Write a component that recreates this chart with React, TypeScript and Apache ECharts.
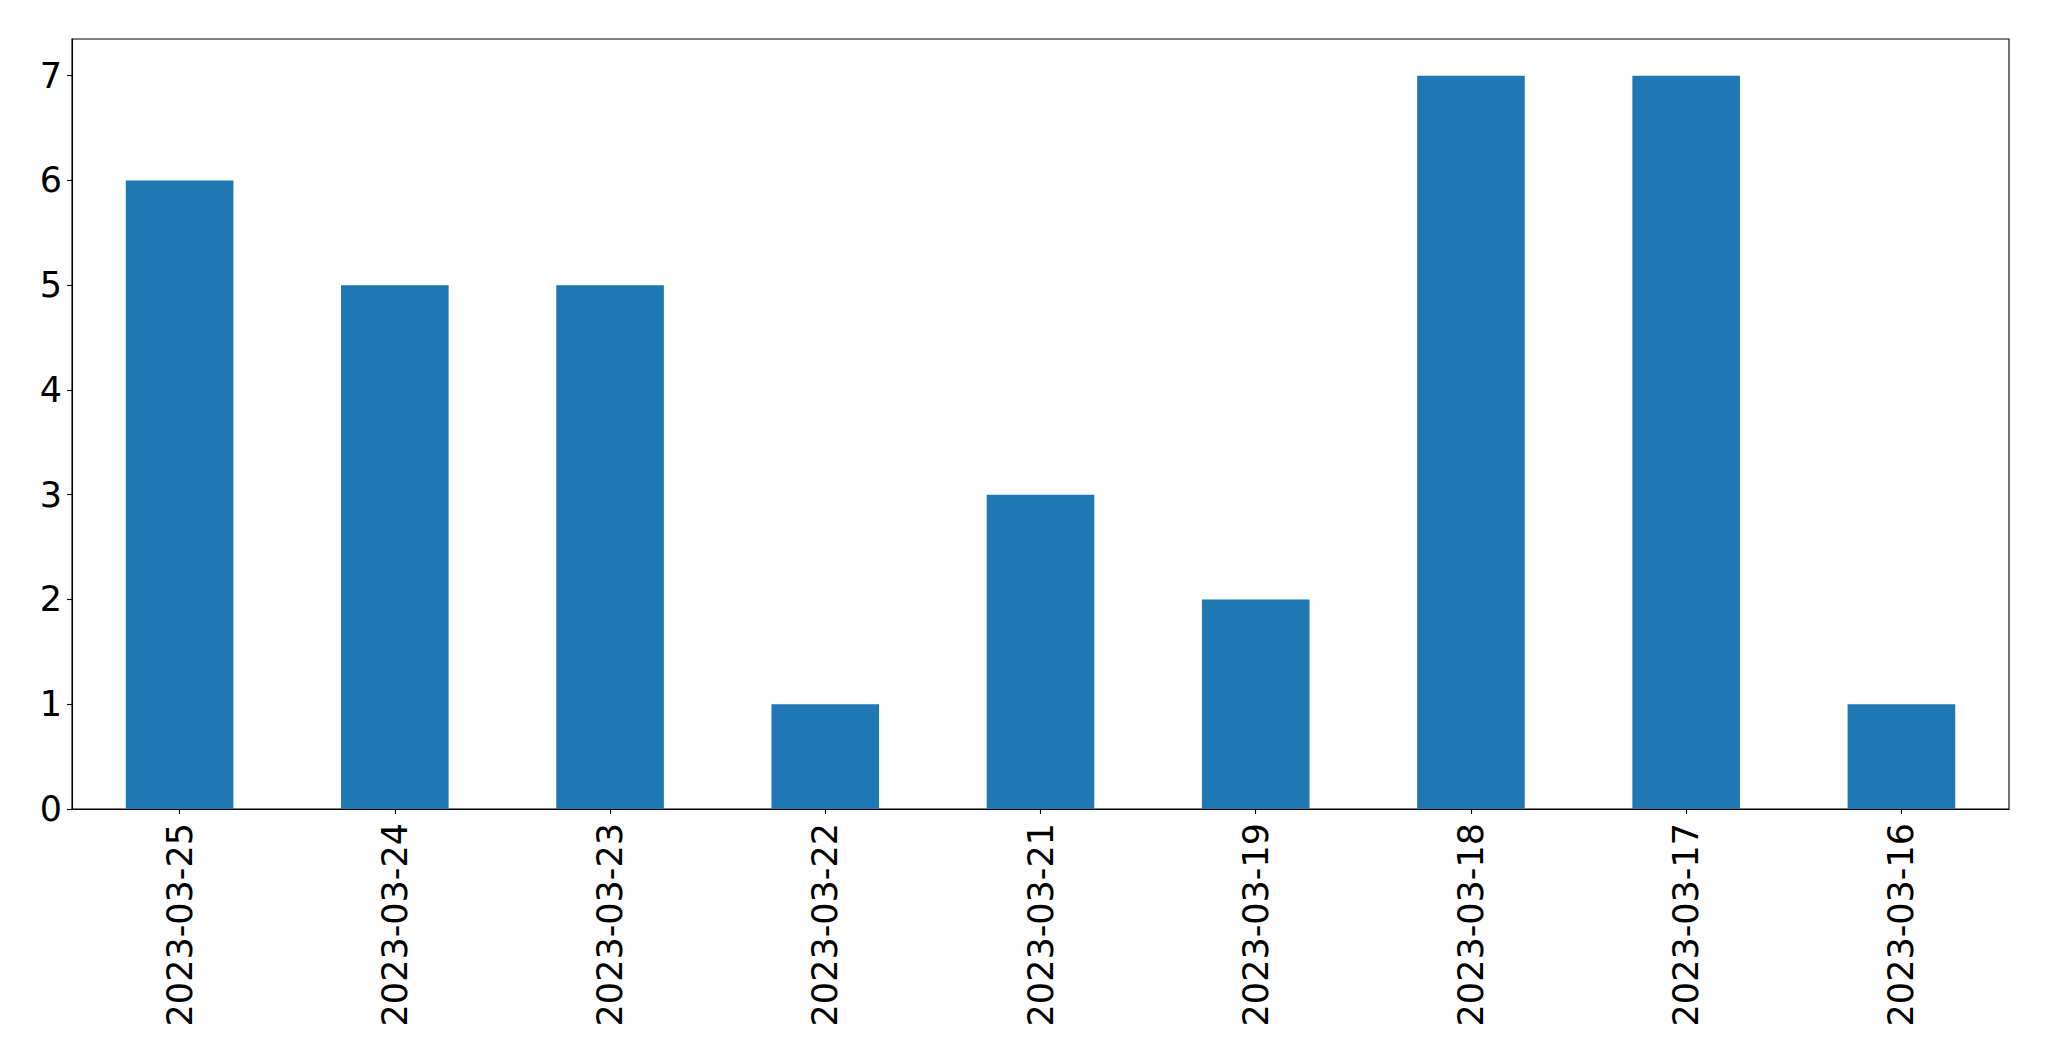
import React, { useEffect, useRef } from "react";
import * as echarts from "echarts";

const categories = [
  "2023-03-25",
  "2023-03-24",
  "2023-03-23",
  "2023-03-22",
  "2023-03-21",
  "2023-03-19",
  "2023-03-18",
  "2023-03-17",
  "2023-03-16",
];
const values = [6, 5, 5, 1, 3, 2, 7, 7, 1];
const yTicks = [0, 1, 2, 3, 4, 5, 6, 7];

export default function App() {
  const ref = useRef<HTMLDivElement>(null);
  useEffect(() => {
    if (!ref.current) return;
    const chart = echarts.init(ref.current, undefined, { renderer: "svg" });
    chart.setOption({
      animation: false,
      backgroundColor: "#ffffff",
      grid: {
        left: 72,
        top: 39,
        width: 1937,
        height: 770,
        show: true,
        borderColor: "#000000",
        borderWidth: 1.1,
        containLabel: false,
      },
      xAxis: {
        type: "category",
        data: categories,
        boundaryGap: true,
        axisLine: { show: true, lineStyle: { color: "#000000", width: 1.1 } },
        axisTick: { show: true, alignWithLabel: true, length: 5, lineStyle: { color: "#000", width: 1.1 } },
        axisLabel: {
          rotate: 90,
          margin: 14,
          fontSize: 35,
          color: "#000000",
          fontFamily: "DejaVu Sans",
          interval: 0,
        },
        splitLine: { show: false },
      },
      yAxis: {
        type: "value",
        min: 0,
        max: 7.35,
        axisLine: { show: true, lineStyle: { color: "#000000", width: 1.1 } },
        axisTick: { show: true, length: 5, customValues: yTicks, lineStyle: { color: "#000", width: 1.1 } },
        axisLabel: {
          customValues: yTicks,
          margin: 10,
          fontSize: 35,
          color: "#000000",
          fontFamily: "DejaVu Sans",
        },
        splitLine: { show: false },
      },
      series: [
        {
          type: "bar",
          data: values,
          barWidth: "50%",
          itemStyle: { color: "#1f77b4" },
        },
      ],
    });
    return () => chart.dispose();
  }, []);
  return (
    <div
      ref={ref}
      style={{ position: "fixed", left: 0, top: 0, width: 2049, height: 1061, background: "#fff" }}
    />
  );
}
